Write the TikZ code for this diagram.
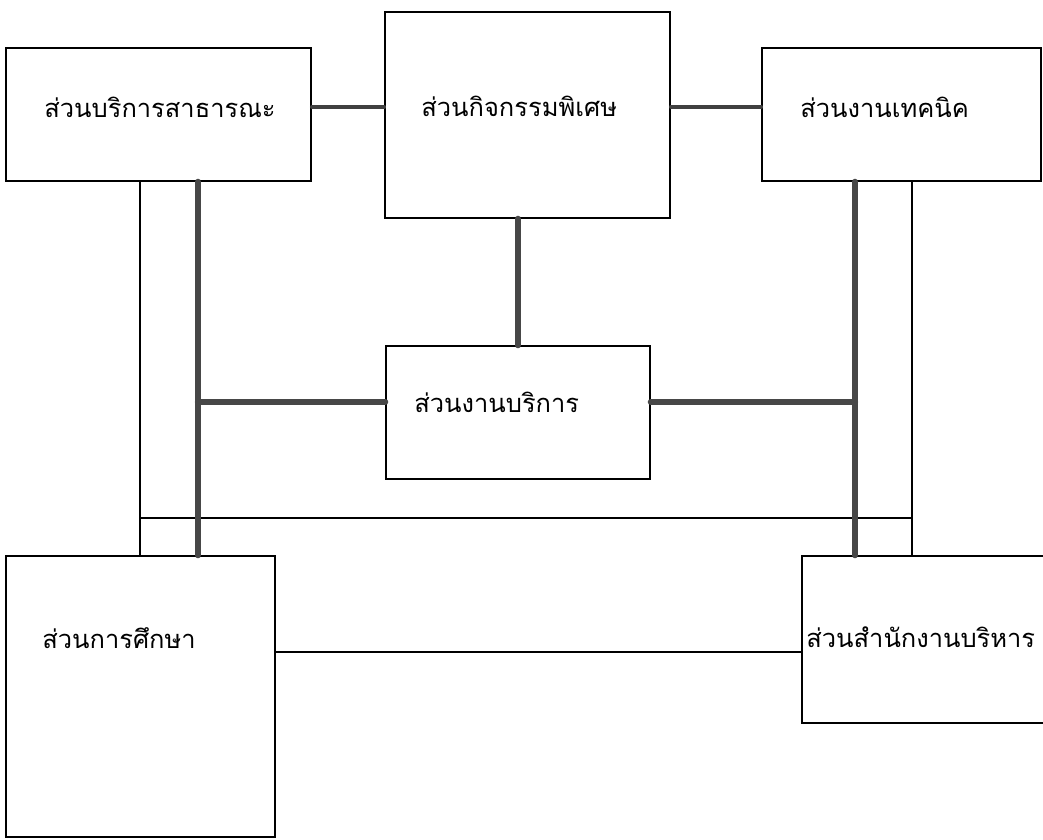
\documentclass[tikz,border=0pt]{standalone}
\usepackage{fontspec}
\newfontfamily\thaifont[Script=Thai]{Loma}
\usetikzlibrary{positioning}

\begin{document}
\begin{tikzpicture}[
    x=0.2mm, y=-0.2mm,
    unit box/.style 2 args={draw, line width=1pt, minimum width=#1*0.2mm,
        minimum height=#2*0.2mm, inner sep=0pt},
    label style/.style={anchor=west, inner sep=0pt,
        font=\thaifont\fontsize{14.5}{18}\selectfont},
    heavy link/.style={line width=3.6pt, draw=black!72, line cap=round},
    mid link/.style={line width=2.2pt, draw=black!75, line cap=round},
    thin link/.style={line width=1.1pt}
]

% SAME BOUNDING BOX
\path[use as bounding box] (0,0) rectangle (1043,839);

% boxes
\node[unit box={305}{133}] (pub) at (158.5,114.5) {};
\node[unit box={285}{206}] (act) at (527.5,115) {};
\node[unit box={279}{133}] (tech) at (901.5,114.5) {};
\node[unit box={264}{133}] (serv) at (518,412.5) {};
\node[unit box={269}{281}] (edu) at (140.5,696.5) {};
\node[unit box={300}{167}] (adm) at (952,639.5) {};

% labels
\node[label style] (pubtxt) at (44,107) {ส่วนบริการสาธารณะ};
\node[label style] (acttxt) at (421,106) {ส่วนกิจกรรมพิเศษ};
\node[label style] (techtxt) at (800,107) {ส่วนงานเทคนิค};
\node[label style] (servtxt) at (414,402) {ส่วนงานบริการ};
\node[label style] (edutxt) at (42,638) {ส่วนการศึกษา};
\node[label style] (admtxt) at (806,637) {ส่วนสำนักงานบริหาร};

% bus points
\coordinate (lbus) at (198,402);
\coordinate (rbus) at (855,402);
\coordinate (lring) at (140,518);
\coordinate (rring) at (912,518);

% thin frame
\draw[thin link] (pub.south -| lring) -- (edu.north -| lring);
\draw[thin link] (tech.south -| rring) -- (adm.north -| rring);
\draw[thin link] (lring) -- (rring);
\draw[thin link] (edu.east |- 0,652) -- (adm.west |- 0,652);

% top row
\draw[mid link] (pub.east |- 0,107) -- (act.west |- 0,107);
\draw[mid link] (act.east |- 0,107) -- (tech.west |- 0,107);

% heavy links
\draw[heavy link] (pub.south -| lbus) -- (edu.north -| lbus);
\draw[heavy link] (tech.south -| rbus) -- (adm.north -| rbus);
\draw[heavy link] (serv.north |- act.south) -- (serv.north);
\draw[heavy link] (lbus) -- (serv.west |- lbus);
\draw[heavy link] (serv.east |- rbus) -- (rbus);

\end{tikzpicture}
\end{document}
